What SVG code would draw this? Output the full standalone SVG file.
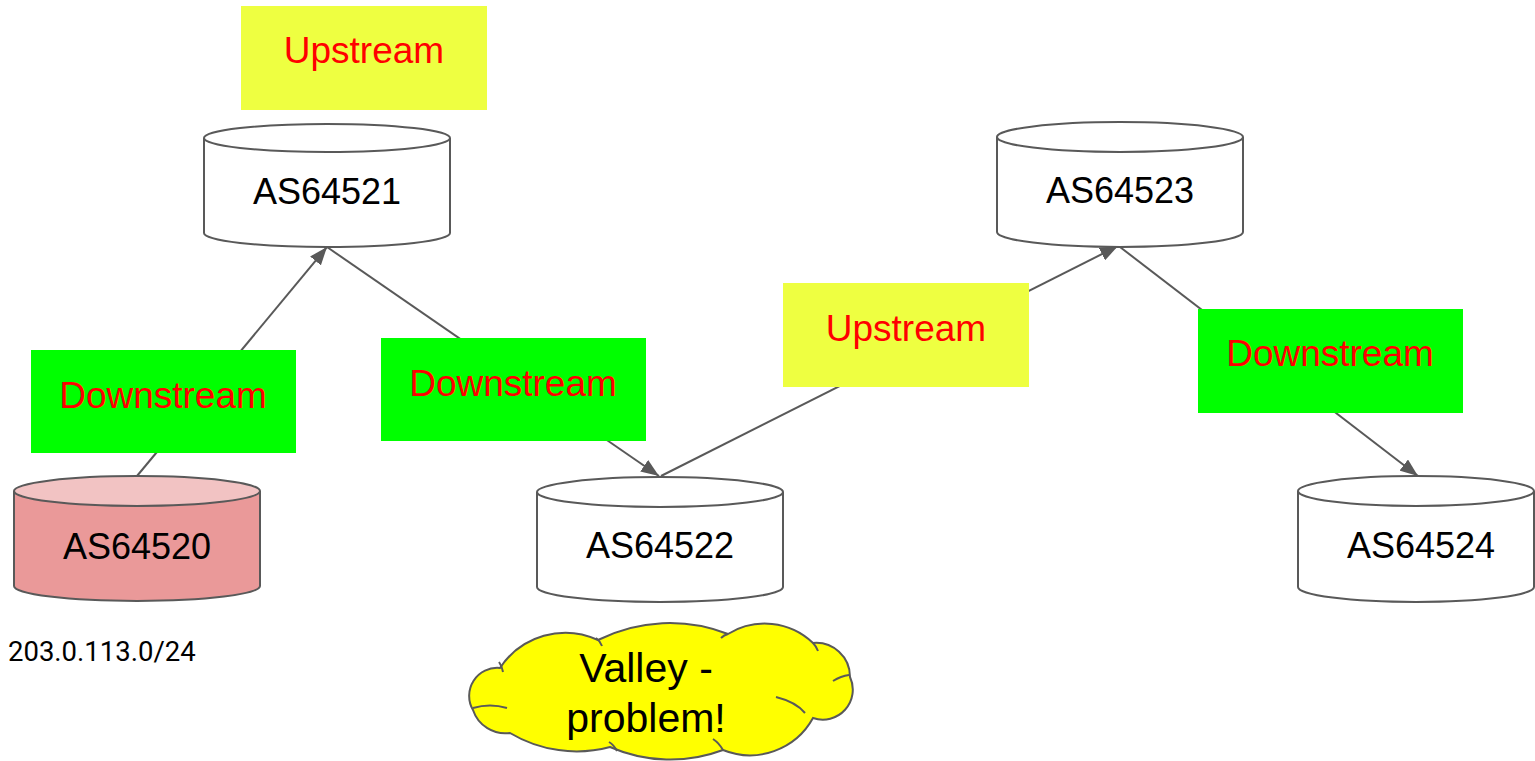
<svg xmlns="http://www.w3.org/2000/svg" width="1535" height="761" viewBox="0 0 1535 761">
<style>
.cyl{fill:#ffffff;stroke:#595959;stroke-width:2}
.cyl-red{fill:#ea9999;stroke:#595959;stroke-width:2}
.cyl-red-top{fill:#f2c3c3;stroke:#595959;stroke-width:2}
.as{font-family:"Liberation Sans",Arial,sans-serif;font-size:36px;fill:#000000;text-anchor:middle}
.lbl{font-family:"Liberation Sans",Arial,sans-serif;font-size:37px;fill:#ff0000;text-anchor:middle}
.up{fill:#eeff41}
.down{fill:#00ff00}
.conn{stroke:#595959;stroke-width:2;fill:none;marker-end:url(#arr)}
.cloud{fill:#ffff00;stroke:#595959;stroke-width:2}
.curl{fill:none;stroke:#595959;stroke-width:2}
</style>
<defs>
<marker id="arr" markerUnits="userSpaceOnUse" viewBox="0 0 18 14" refX="18" refY="7" markerWidth="18" markerHeight="14" orient="auto">
<path d="M0,0 L18,7 L0,14 z" fill="#595959"/>
</marker>
</defs>
<rect width="1535" height="761" fill="#ffffff"/>
<g id="connectors">
<line class="conn" x1="137" y1="476" x2="327" y2="247"/>
<line class="conn" x1="327" y1="247" x2="659" y2="476"/>
<line class="conn" x1="661" y1="476" x2="1118" y2="246"/>
<line class="conn" x1="1120" y1="247" x2="1418" y2="476"/>
</g>
<g id="as64521">
<path class="cyl" d="M204,138 L204,233 A123,14 0 0 0 450,233 L450,138"/>
<ellipse class="cyl" cx="327" cy="138" rx="123" ry="14"/>
<text class="as" x="327" y="204">AS64521</text>
</g>
<g id="as64520">
<path class="cyl-red" d="M14,491 L14,586 A123,15 0 0 0 260,586 L260,491"/>
<ellipse class="cyl-red-top" cx="137" cy="491" rx="123" ry="15"/>
<text class="as" x="137" y="559">AS64520</text>
</g>
<g id="as64522">
<path class="cyl" d="M537,492 L537,587 A123,15 0 0 0 783,587 L783,492"/>
<ellipse class="cyl" cx="660" cy="492" rx="123" ry="15"/>
<text class="as" x="660" y="558">AS64522</text>
</g>
<g id="as64523">
<path class="cyl" d="M997,137 L997,232 A123,15 0 0 0 1243,232 L1243,137"/>
<ellipse class="cyl" cx="1120" cy="137" rx="123" ry="15"/>
<text class="as" x="1120" y="203">AS64523</text>
</g>
<g id="as64524">
<path class="cyl" d="M1298,491 L1298,587 A118,15 0 0 0 1534,587 L1534,491"/>
<ellipse class="cyl" cx="1416" cy="491" rx="118" ry="15"/>
<text class="as" x="1421" y="558">AS64524</text>
</g>
<g id="label-upstream-1">
<rect class="up" x="241" y="6" width="246" height="104"/>
<text class="lbl" x="364" y="63">Upstream</text>
</g>
<g id="label-downstream-1">
<rect class="down" x="31" y="350" width="265" height="103"/>
<text class="lbl" x="163" y="408">Downstream</text>
</g>
<g id="label-downstream-2">
<rect class="down" x="381" y="338" width="265" height="103"/>
<text class="lbl" x="513" y="396">Downstream</text>
</g>
<g id="label-upstream-2">
<rect class="up" x="783" y="283" width="246" height="104"/>
<text class="lbl" x="906" y="341">Upstream</text>
</g>
<g id="label-downstream-3">
<rect class="down" x="1198" y="309" width="265" height="104"/>
<text class="lbl" x="1330" y="366">Downstream</text>
</g>
<g id="prefix">
<text x="8" y="661" font-family="Roboto,sans-serif" font-size="27.5" fill="#000000">203.0.113.0/24</text>
</g>
<g id="valley-cloud">
<path class="cloud" d="M500,668 A78,78 0 0 1 598,640 A160,160 0 0 1 728,634 A70,70 0 0 1 813,643 A34,34 0 0 1 850,677 A30,30 0 0 1 813,718 A72,72 0 0 1 723,750 A150,150 0 0 1 610,747 A130,130 0 0 1 510,733 A34,34 0 0 1 473,710 A28,28 0 0 1 500,668 Z"/>
<path class="curl" d="M473,708 Q490,703 507,708"/>
<path class="curl" d="M596,638 Q600,641 602,646"/>
<path class="curl" d="M728,634 Q724,635 721,638"/>
<path class="curl" d="M813,643 Q816,646 818,651"/>
<path class="curl" d="M833,681 Q841,676 849,675"/>
<path class="curl" d="M776,697 Q796,702 805,713"/>
<path class="curl" d="M713,739 Q719,743 723,750"/>
<path class="curl" d="M609,742 Q614,745 617,751"/>
<path class="curl" d="M499,662 Q502,666 503,672"/>
<text font-family="'Liberation Sans',Arial,sans-serif" font-size="41" fill="#000000" text-anchor="middle"><tspan x="646" y="682">Valley -</tspan><tspan x="646" y="732">problem!</tspan></text>
</g>
</svg>
